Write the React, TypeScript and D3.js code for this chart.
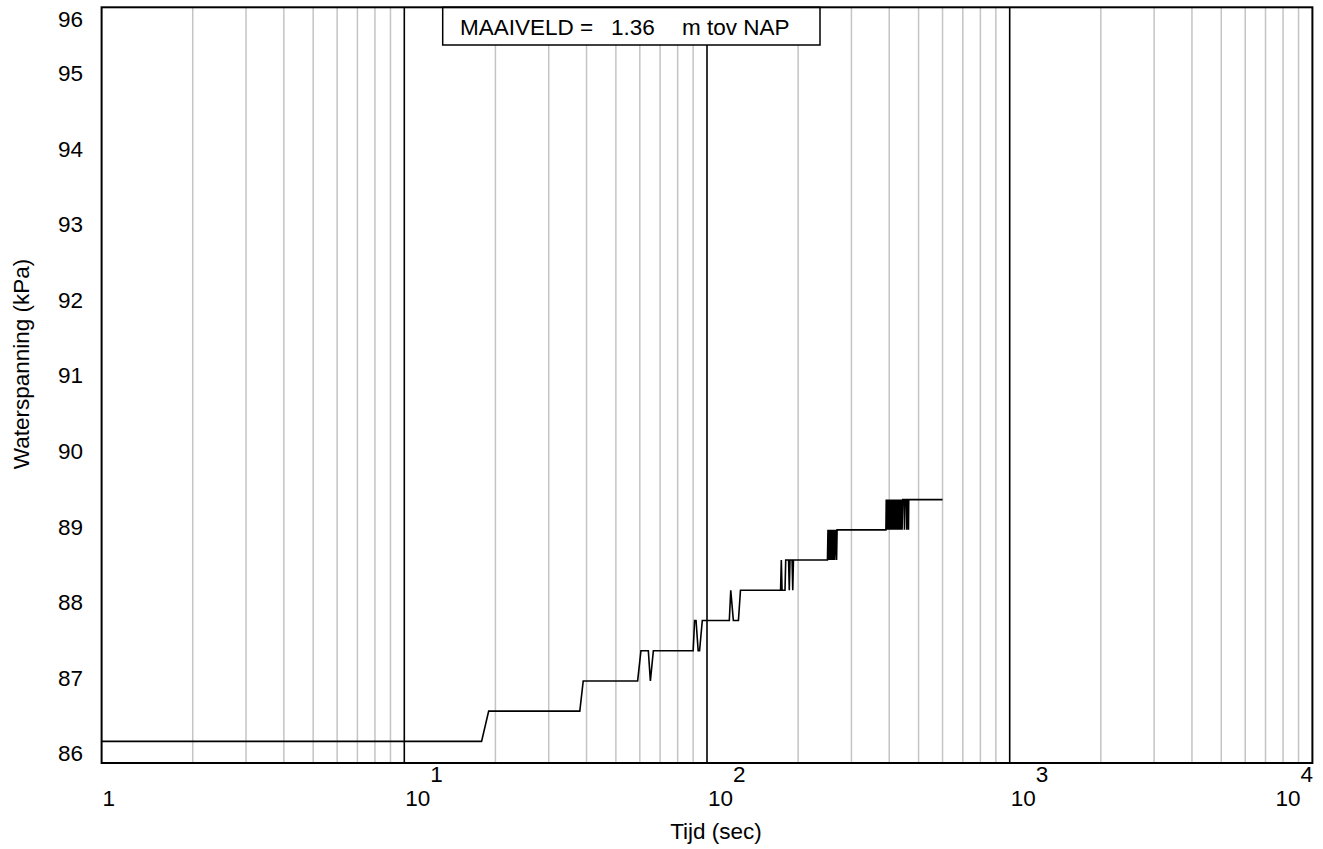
import React from 'react';
import * as d3 from 'd3';

// Time (s) and water pressure (kPa)
const timeSec = [
  1, 18, 19, 38, 39, 59, 60.5, 64, 65, 66.5, 90, 91, 92, 93.5, 94.5, 96.5,
  118.5, 119.8, 122.2, 127, 129,
  175, 176, 177, 181, 182, 186, 187, 188, 191, 192, 193,
  250, 251, 252, 254, 255, 257, 258, 260, 261, 263, 264, 266, 268, 269,
  390, 391, 393, 395, 397, 399, 401, 403, 405, 407, 409, 411, 413, 415, 417, 419,
  421, 423, 425, 427, 429, 431, 433, 435, 437, 439, 441, 443, 448, 449, 451, 456,
  457, 459, 462, 463, 464, 600,
];
const waterPressureKPa = [
  86.15, 86.15, 86.55, 86.55, 86.95, 86.95, 87.35, 87.35, 86.95, 87.35, 87.35, 87.75, 87.75, 87.35, 87.35, 87.75,
  87.75, 88.15, 87.75, 87.75, 88.15,
  88.15, 88.55, 88.15, 88.15, 88.55, 88.55, 88.15, 88.55, 88.55, 88.15, 88.55,
  88.55, 88.95, 88.55, 88.95, 88.55, 88.95, 88.55, 88.95, 88.55, 88.95, 88.55, 88.95, 88.55, 88.95,
  88.95, 89.35, 88.95, 89.35, 88.95, 89.35, 88.95, 89.35, 88.95, 89.35, 88.95, 89.35, 88.95, 89.35, 88.95, 89.35,
  88.95, 89.35, 88.95, 89.35, 88.95, 89.35, 88.95, 89.35, 88.95, 89.35, 88.95, 89.35, 89.35, 88.95, 89.35, 89.35,
  88.95, 89.35, 89.35, 88.95, 89.35, 89.35,
];

const yTickValues = [86, 87, 88, 89, 90, 91, 92, 93, 94, 95, 96];
const xDecadeExponents = [0, 1, 2, 3, 4];
const minorMultipliers = [2, 3, 4, 5, 6, 7, 8, 9];

const maaiveldLabel = 'MAAIVELD =';
const maaiveldValue = '1.36';
const maaiveldUnit = 'm tov NAP';
const xAxisTitle = 'Tijd (sec)';
const yAxisTitle = 'Waterspanning (kPa)';

const FONT = '"Liberation Sans", Arial, Helvetica, sans-serif';

export default function App() {
  const W = 1323;
  const H = 849;
  const left = 101.6;
  const right = 1312.4;
  const top = 7.3;
  const bottom = 763;
  const fs = 22.5;

  const x = d3.scaleLog().domain([1, 10000]).range([left, right]);
  const y = d3.scaleLinear().domain([85.864, 95.866]).range([bottom, top]);

  const lineGen = d3
    .line<number>()
    .x((_, i) => x(timeSec[i]))
    .y((d) => y(d));
  const pathD = lineGen(waterPressureKPa) || '';

  const minorTicks: number[] = [];
  xDecadeExponents.slice(0, -1).forEach((e) => {
    minorMultipliers.forEach((m) => minorTicks.push(m * Math.pow(10, e)));
  });

  const supW = 0.556 * fs;
  const tenW = 1.112 * fs;

  return (
    <svg
      width={W}
      height={H}
      style={{ position: 'absolute', left: 0, top: 0, display: 'block', background: '#fff' }}
      fontFamily={FONT}
    >
      <rect x={0} y={0} width={W} height={H} fill="#fff" />
      {/* minor grid */}
      {minorTicks.map((t) => (
        <line key={'m' + t} x1={x(t)} x2={x(t)} y1={top} y2={bottom} stroke="#c4c4c4" strokeWidth={1.5} />
      ))}
      {/* decade lines */}
      {xDecadeExponents.slice(1, -1).map((e) => (
        <line
          key={'d' + e}
          x1={x(Math.pow(10, e))}
          x2={x(Math.pow(10, e))}
          y1={top}
          y2={bottom}
          stroke="#000"
          strokeWidth={1.6}
        />
      ))}
      {/* data */}
      <path d={pathD} fill="none" stroke="#000" strokeWidth={1.6} strokeLinejoin="miter" />
      {/* MAAIVELD box */}
      <rect x={442.7} y={top} width={377.3} height={37.7} fill="#fff" stroke="#000" strokeWidth={1.5} />
      <text x={460} y={35} fontSize={fs} fill="#000">
        {maaiveldLabel}
      </text>
      <text x={611} y={35} fontSize={fs} fill="#000">
        {maaiveldValue}
      </text>
      <text x={682} y={35} fontSize={fs} fill="#000">
        {maaiveldUnit}
      </text>
      {/* plot border */}
      <rect x={left} y={top} width={right - left} height={bottom - top} fill="none" stroke="#000" strokeWidth={2} />
      {/* y tick labels */}
      {yTickValues.map((v) => (
        <text
          key={'y' + v}
          x={83}
          y={Math.max(y(v) + 8.5, top + 20)}
          fontSize={fs}
          textAnchor="end"
          fill="#000"
        >
          {v}
        </text>
      ))}
      {/* x tick labels */}
      {xDecadeExponents.map((e, i) => {
        const tx = x(Math.pow(10, e));
        if (e === 0) {
          return (
            <text key={'x' + e} x={tx + 1} y={806} fontSize={fs} fill="#000">
              1
            </text>
          );
        }
        const last = i === xDecadeExponents.length - 1;
        if (last) {
          return (
            <g key={'x' + e}>
              <text x={1313 - supW} y={806} fontSize={fs} textAnchor="end" fill="#000">
                10
              </text>
              <text x={1313} y={782} fontSize={fs} textAnchor="end" fill="#000">
                {e}
              </text>
            </g>
          );
        }
        return (
          <g key={'x' + e}>
            <text x={tx + 1} y={806} fontSize={fs} fill="#000">
              10
            </text>
            <text x={tx + 1 + tenW} y={782} fontSize={fs} fill="#000">
              {e}
            </text>
          </g>
        );
      })}
      {/* axis titles */}
      <text x={716} y={839} fontSize={fs} textAnchor="middle" fill="#000">
        {xAxisTitle}
      </text>
      <text transform="translate(29,364) rotate(-90)" fontSize={fs} textAnchor="middle" fill="#000">
        {yAxisTitle}
      </text>
    </svg>
  );
}
